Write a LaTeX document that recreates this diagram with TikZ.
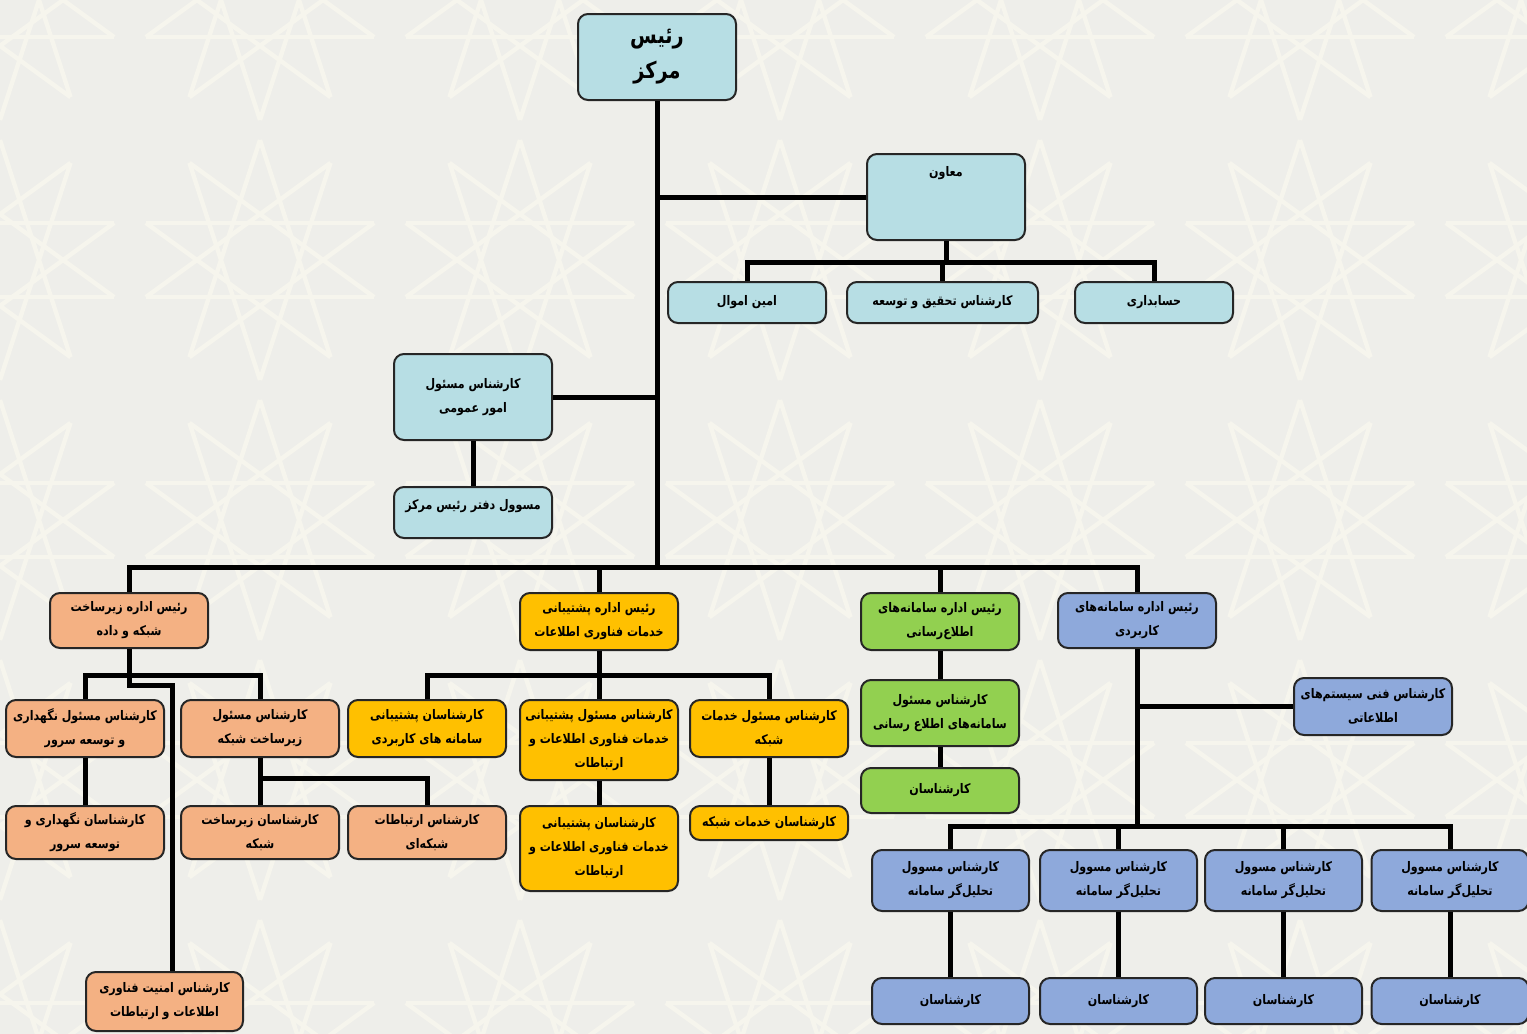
\documentclass[tikz,border=0pt]{standalone}
\usepackage{fontspec}
\usepackage{xcolor}
\newfontfamily\farsi[Script=Arabic,FakeStretch=0.84]{DejaVu Sans}
\TeXXeTstate=1
\newcommand{\fa}[1]{\beginR #1\endR}
\definecolor{paper}{HTML}{EEEEEA}
\definecolor{paperline}{HTML}{F6F5ED}
\definecolor{boxblue}{HTML}{B7DEE4}
\definecolor{boxorange}{HTML}{F4B183}
\definecolor{boxgold}{HTML}{FFC000}
\definecolor{boxgreen}{HTML}{92D050}
\definecolor{boxperi}{HTML}{8EA9DB}

\begin{document}
\begin{tikzpicture}[x=0.5pt,y=-0.5pt,
    box/.style={draw=black!85, line width=1pt, rounded corners=5pt, inner sep=0pt,
      align=center, font=\farsi\bfseries\fontsize{6.6}{12}\selectfont},
    boxsize/.style 2 args={minimum width=#1*0.5pt, minimum height=#2*0.5pt},
    link/.style={line width=2.5pt},
    tile/.style={paperline, line width=2.2pt}]
    \useasboundingbox[fill=paper] (0,0) rectangle (1527,1034);

    % Background pattern
    \begin{scope}
      \clip (0,0) rectangle (1527,1034);
      \foreach \cx in {0,260,...,1560}
        \foreach \cy in {0,260,...,1040}
          \foreach \k in {0,...,9}
            \draw[tile] ([shift={(\cx,\cy)}]\k*36+18:120) -- ([shift={(\cx,\cy)}]\k*36+162:120);
    \end{scope}

    % Head of the centre and its staff
    \node[box, fill=boxblue, boxsize={158}{86}, font=\farsi\bfseries\fontsize{11.5}{17.5}\selectfont] (chief) at (657,57) {\fa{رئیس}\\\fa{مرکز}};
    \node[box, fill=boxblue, boxsize={158}{86}, text height=11pt, text depth=32pt] (deputy) at (946,197) {\fa{معاون}};
    \node[box, fill=boxblue, boxsize={158}{41}] (property) at (747,302.5) {\fa{امین اموال}};
    \node[box, fill=boxblue, boxsize={191}{41}] (research) at (942.5,302.5) {\fa{کارشناس تحقیق و توسعه}};
    \node[box, fill=boxblue, boxsize={158}{41}] (accounting) at (1154,302.5) {\fa{حسابداری}};
    \node[box, fill=boxblue, boxsize={158}{86}] (general) at (473,397) {\fa{کارشناس مسئول}\\\fa{امور عمومی}};
    \node[box, fill=boxblue, boxsize={158}{51}, text height=11pt, text depth=14.5pt] (office) at (473,512.5) {\fa{مسوول دفتر رئیس مرکز}};

    % Network and data infrastructure
    \node[box, fill=boxorange, boxsize={158}{55}] (infrahead) at (129,620.5) {\fa{رئیس اداره زیرساخت}\\\fa{شبکه و داده}};
    \node[box, fill=boxorange, boxsize={158}{57}] (serverlead) at (85,728.5) {\fa{کارشناس مسئول نگهداری}\\\fa{و توسعه سرور}};
    \node[box, fill=boxorange, boxsize={158}{57}] (netlead) at (260,728.5) {\fa{کارشناس مسئول}\\\fa{زیرساخت شبکه}};
    \node[box, fill=boxorange, boxsize={158}{53}] (serverstaff) at (85,832.5) {\fa{کارشناسان نگهداری و}\\\fa{توسعه سرور}};
    \node[box, fill=boxorange, boxsize={158}{53}] (netstaff) at (260,832.5) {\fa{کارشناسان زیرساخت}\\\fa{شبکه}};
    \node[box, fill=boxorange, boxsize={158}{53}] (comm) at (427,832.5) {\fa{کارشناس ارتباطات}\\\fa{شبکه‌ای}};
    \node[box, fill=boxorange, boxsize={157}{59}] (security) at (164.5,1001.5) {\fa{کارشناس امنیت فناوری}\\\fa{اطلاعات و ارتباطات}};

    % IT services support
    \node[box, fill=boxgold, boxsize={158}{57}] (supporthead) at (599,621.5) {\fa{رئیس  اداره پشتیبانی}\\\fa{خدمات فناوری اطلاعات}};
    \node[box, fill=boxgold, boxsize={158}{57}] (appsupport) at (427,728.5) {\fa{کارشناسان پشتیبانی}\\\fa{سامانه های کاربردی}};
    \node[box, fill=boxgold, boxsize={158}{80}] (itlead) at (599,740) {\fa{کارشناس مسئول پشتیبانی}\\\fa{خدمات فناوری اطلاعات و}\\\fa{ارتباطات}};
    \node[box, fill=boxgold, boxsize={158}{57}] (servlead) at (769,728.5) {\fa{کارشناس مسئول خدمات}\\\fa{شبکه}};
    \node[box, fill=boxgold, boxsize={158}{85}] (itstaff) at (599,848.5) {\fa{کارشناسان پشتیبانی}\\\fa{خدمات فناوری اطلاعات و}\\\fa{ارتباطات}};
    \node[box, fill=boxgold, boxsize={158}{34}] (servstaff) at (769,823) {\fa{کارشناسان خدمات شبکه}};

    % Information systems
    \node[box, fill=boxgreen, boxsize={158}{57}] (infohead) at (940,621.5) {\fa{رئیس اداره سامانه‌های}\\\fa{اطلاع‌رسانی}};
    \node[box, fill=boxgreen, boxsize={158}{66}] (infolead) at (940,713) {\fa{کارشناس مسئول}\\\fa{سامانه‌های اطلاع رسانی}};
    \node[box, fill=boxgreen, boxsize={158}{45}] (infostaff) at (940,790.5) {\fa{کارشناسان}};

    % Application systems
    \node[box, fill=boxperi, boxsize={158}{55}] (apphead) at (1137,620.5) {\fa{رئیس اداره سامانه‌های}\\\fa{کاربردی}};
    \node[box, fill=boxperi, boxsize={158}{57}] (techinfo) at (1373,706.5) {\fa{کارشناس فنی سیستم‌های}\\\fa{اطلاعاتی}};
    \foreach \x [count=\i] in {950.5,1118.5,1283.5,1450}{
      \node[box, fill=boxperi, boxsize={157}{61}] (analyst\i) at (\x,880.5) {\fa{کارشناس مسوول}\\\fa{تحلیل‌گر سامانه}};
      \node[box, fill=boxperi, boxsize={157}{46}] (expert\i) at (\x,1001) {\fa{کارشناسان}};
    }

    % Bus lines
    \coordinate (deputybus) at (946,262);
    \coordinate (mainbus) at (657,567);
    \coordinate (infrabus) at (129,675);
    \coordinate (secbend) at (129,685);
    \coordinate (netbus) at (260,778);
    \coordinate (supportbus) at (599,675);
    \coordinate (appbus) at (1137,826);

    % Connectors
    \draw[link] (chief.south) -- (chief.south |- mainbus);
    \draw[link] (deputy.west) -- (deputy.west -| chief.south);
    \draw[link] (general.east) -- (general.east -| chief.south);
    \draw[link] (deputy.south) -- (deputybus);
    \draw[link] (property.north) |- (deputybus) -| (accounting.north);
    \draw[link] (research.north) -- (research.north |- deputybus);
    \draw[link] (general.south) -- (office.north);
    \draw[link] (infrahead.north) |- (mainbus) -| (apphead.north);
    \draw[link] (supporthead.north) -- (supporthead.north |- mainbus);
    \draw[link] (infohead.north) -- (infohead.north |- mainbus);

    \draw[link] (infrahead.south) -- (infrabus);
    \draw[link] (serverlead.north) |- (infrabus) -| (netlead.north);
    \draw[link] (infrabus) -- (secbend) -| ([xshift=4pt]security.north);
    \draw[link] (serverlead.south) -- (serverstaff.north);
    \draw[link] (netlead.south) -- (netstaff.north);
    \draw[link] (netbus) -| (comm.north);

    \draw[link] (supporthead.south) -- (itlead.north);
    \draw[link] (appsupport.north) |- (supportbus) -| (servlead.north);
    \draw[link] (itlead.south) -- (itstaff.north);
    \draw[link] (servlead.south) -- (servstaff.north);

    \draw[link] (infohead.south) -- (infolead.north);
    \draw[link] (infolead.south) -- (infostaff.north);

    \draw[link] (apphead.south) -- (appbus);
    \draw[link] (techinfo.west) -- (techinfo.west -| apphead.south);
    \draw[link] (analyst1.north) |- (appbus) -| (analyst4.north);
    \draw[link] (analyst2.north) -- (analyst2.north |- appbus);
    \draw[link] (analyst3.north) -- (analyst3.north |- appbus);
    \foreach \i in {1,...,4}
      \draw[link] (analyst\i.south) -- (expert\i.north);
\end{tikzpicture}
\end{document}
